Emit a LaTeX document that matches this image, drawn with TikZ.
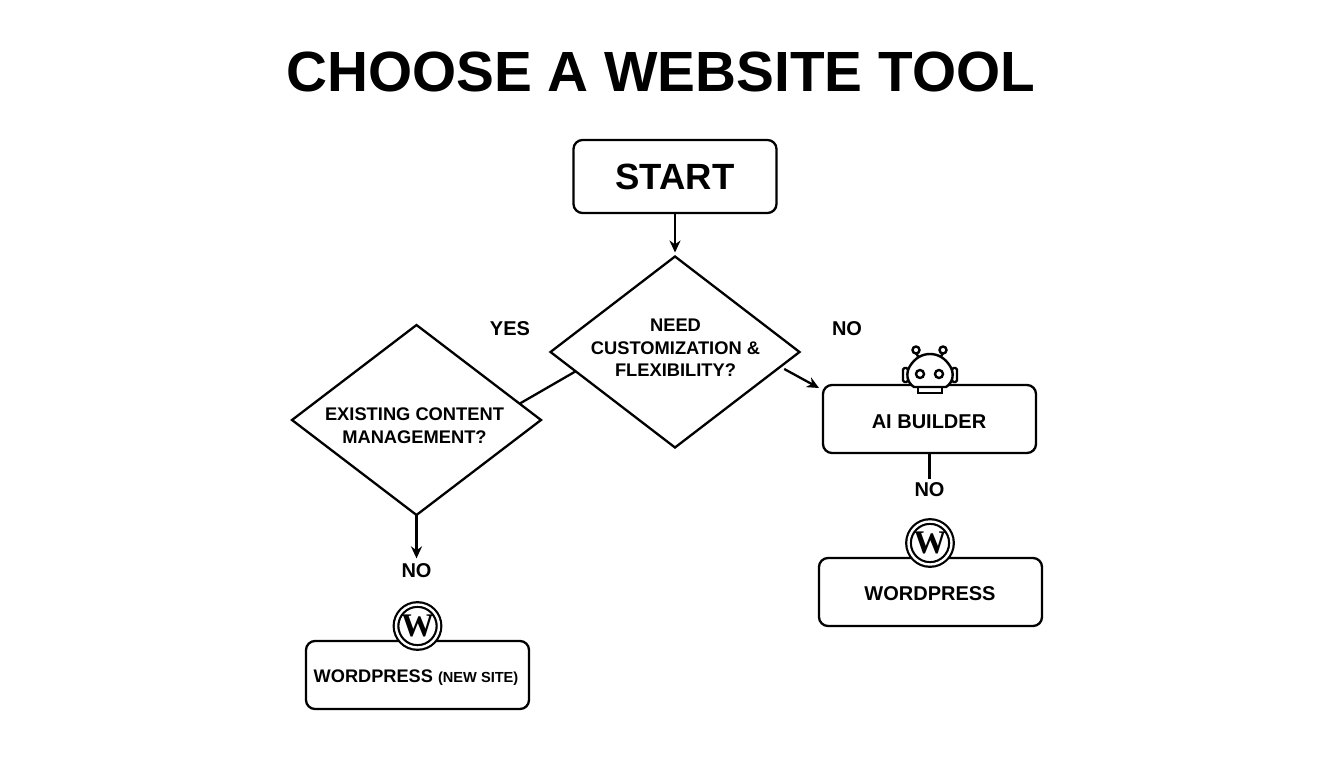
\documentclass[tikz,border=0pt]{standalone}
\usepackage{fontspec}
\setmainfont{Liberation Sans}
\newfontfamily\serifw{Liberation Serif}
\usetikzlibrary{shapes.geometric,arrows.meta}
\tikzset{
    flowbox/.style={draw, rectangle, rounded corners=9pt, line width=2.3pt, fill=white, outer sep=0pt, inner sep=0pt},
    flowdia/.style={draw, diamond, line width=2.3pt, inner sep=0pt, outer sep=0pt, aspect=1.3},
    wptext/.style={font=\bfseries\fontsize{20}{24}\selectfont, align=center},
    diatext/.style={font=\bfseries\fontsize{18.3}{22.5}\selectfont, align=center},
    flowline/.style={line width=2.3pt},
    flowarrow/.style={line width=2.3pt, -{Stealth[length=12pt,width=11pt]}},
    wpicon/.style={draw, circle, line width=2.2pt, double=white, double distance=2.4pt, fill=white, minimum size=43pt, inner sep=0pt, outer sep=0pt, font=\serifw\bfseries\fontsize{33}{33}\selectfont},
}
\begin{document}
\begin{tikzpicture}[x=1pt, y=-1pt]
    \useasboundingbox (0, 0) rectangle (1344, 768);
    % Title
    \node (title) at (660.5, 72) {\bfseries\fontsize{56.7}{60}\selectfont CHOOSE A WEBSITE TOOL};
    % Boxes
    \node[flowbox, minimum width=203pt, minimum height=73pt, font=\bfseries\fontsize{36.5}{40}\selectfont] (start) at (675, 176.5) {START};
    \node[flowbox, minimum width=213pt, minimum height=68pt] (ai) at (929.5, 419) {};
    \node[wptext] (aitext) at (929, 422) {AI BUILDER};
    \node[flowbox, minimum width=223pt, minimum height=68pt] (wpright) at (930.5, 592) {};
    \node[wptext] (wprighttext) at (930, 594) {WORDPRESS};
    \node[flowbox, minimum width=223pt, minimum height=68pt] (wpleft) at (417.5, 675) {};
    \node[wptext] (wplefttext) at (416, 677.5) {\fontsize{18.2}{22}\selectfont WORDPRESS {\fontsize{14.6}{18}\selectfont (NEW SITE)}};
    % Diamonds
    \node[flowdia, minimum width=249pt, minimum height=191pt] (need) at (675, 352) {};
    \node[flowdia, minimum width=249pt, minimum height=190pt] (content) at (416.5, 420) {};
    \node[diatext] (needtext) at (675.5, 348) {NEED\\CUSTOMIZATION \&\\FLEXIBILITY?};
    \node[diatext] (contenttext) at (414.5, 425.5) {EXISTING CONTENT\\MANAGEMENT?};
    % Labels
    \node[wptext] (yes) at (510, 328.5) {YES};
    \node[wptext] (noright) at (847, 328.5) {NO};
    \node[wptext] (noai) at (929.5, 489.5) {NO};
    \node[wptext] (noleft) at (416.5, 571) {NO};
    % Connectors
    \coordinate (aitip) at (819, 388);
    \draw[flowarrow, shorten >=4pt] (start.south) -- (need.north);
    \draw[flowline] (need.191) -- (content.9);
    \draw[flowarrow, shorten <=4.5pt] (need.-8) -- (aitip);
    \draw[flowline] (ai.south) -- (noai.north);
    \draw[flowarrow, shorten >=2pt] (content.south) -- (noleft.north);
    % WordPress icons
    \node[wpicon] (wpa) at (930, 543) {\raisebox{-1.5pt}{W}};
    \node[wpicon] (wpb) at (417.5, 626) {\raisebox{-1.5pt}{W}};
    % Robot icon
    \begin{scope}[line width=2.4pt]
        \draw[fill=white, rounded corners=1.5pt] (908, 368) rectangle (903, 382);
        \draw[fill=white, rounded corners=1.5pt] (952, 368) rectangle (957, 382);
        \draw (919, 358) -- (916, 353);
        \draw (940, 358) -- (943, 353);
        \draw (916, 350) circle (3.5);
        \draw (943, 350) circle (3.5);
        \draw[fill=white] (918, 387) rectangle (942, 393);
        \draw[fill=white] (914, 387) .. controls (906, 382) and (906, 372) .. (910, 366)
            .. controls (915, 358) and (922, 354) .. (930, 354)
            .. controls (938, 354) and (945, 358) .. (950, 366)
            .. controls (954, 372) and (954, 382) .. (946, 387) -- cycle;
        \draw (920, 374) circle (4);
        \draw (939, 374) circle (4);
    \end{scope}
\end{tikzpicture}
\end{document}
